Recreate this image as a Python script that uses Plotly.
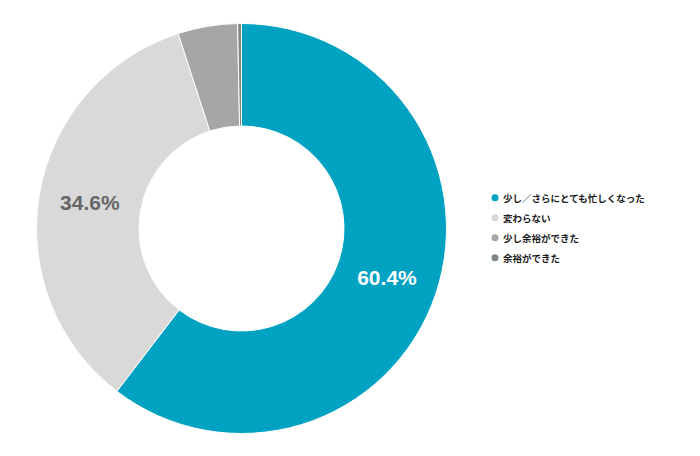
import plotly.graph_objects as go

categories = ["少し／さらにとても忙しくなった", "変わらない", "少し余裕ができた", "余裕ができた"]
values = [60.4, 34.6, 4.7, 0.3]
labels_shown = ["60.4%", "34.6%", "", ""]
colors = ["#00A2C2", "#D9D9D9", "#A6A6A6", "#7F868A"]
text_colors = ["#FFFFFF", "#666666", "#666666", "#666666"]

W, H = 700, 456
cx, cy, R = 233.5, 220.5, 205  # pixel layout (page has an 8px body offset)

fig = go.Figure()
fig.add_trace(go.Pie(
    labels=categories, values=values, text=labels_shown,
    textinfo="text", textposition="inside", insidetextorientation="horizontal",
    hole=0.5, sort=False, direction="clockwise", rotation=0,
    marker=dict(colors=colors, line=dict(color="#FFFFFF", width=1)),
    textfont=dict(family="Liberation Sans, Arial, sans-serif", size=21, color=text_colors, weight="bold"),
    showlegend=False,
    domain=dict(x=[(cx - R) / W, (cx + R) / W], y=[(H - cy - R) / H, (H - cy + R) / H]),
))

shapes = []
annotations = []
leg_x, leg_y0, leg_dy, r = 487, 189.7, 20, 3.5
for i, (name, c) in enumerate(zip(categories, colors)):
    yy = leg_y0 + i * leg_dy
    shapes.append(dict(type="circle", xref="paper", yref="paper",
                       x0=(leg_x - r) / W, x1=(leg_x + r) / W,
                       y0=(H - yy - r) / H, y1=(H - yy + r) / H,
                       fillcolor=c, line=dict(width=0)))
    annotations.append(dict(text=name, xref="paper", yref="paper",
                            x=(leg_x + 6) / W, y=(H - yy) / H,
                            xanchor="left", yanchor="middle", showarrow=False,
                            font=dict(family="Noto Sans CJK JP, sans-serif", size=9.5, color="#1A1A1A", weight="bold")))

fig.update_layout(
    width=W, height=H,
    margin=dict(l=0, r=0, t=0, b=0),
    paper_bgcolor="#FFFFFF", plot_bgcolor="#FFFFFF",
    showlegend=False,
    shapes=shapes, annotations=annotations,
)

fig.write_html("out.html")
